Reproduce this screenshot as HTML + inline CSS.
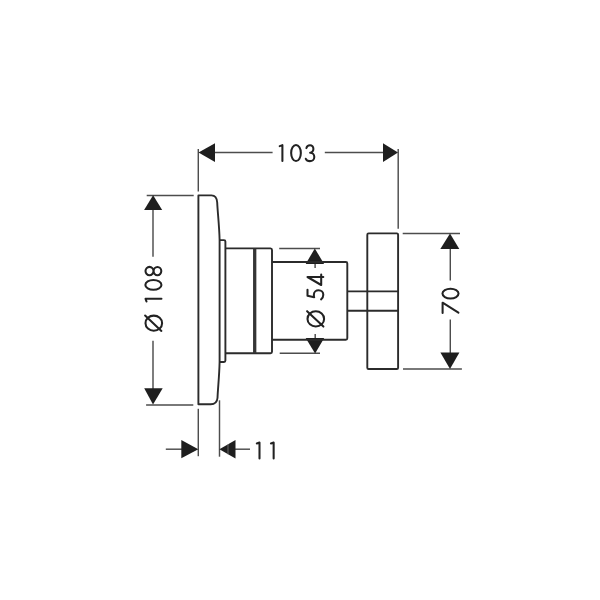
<!DOCTYPE html>
<html><head><meta charset="utf-8">
<style>
html,body{margin:0;padding:0;background:#fff;width:600px;height:600px;overflow:hidden}
svg{display:block}
text{font-family:"Liberation Sans",sans-serif;fill:#2a2a2a}
</style></head>
<body>
<svg width="600" height="600" viewBox="0 0 600 600">
<!-- dimension lines -->
<g stroke="#4d4d4d" stroke-width="1.45" fill="none">
  <!-- 103 -->
  <line x1="198.3" y1="149" x2="198.3" y2="191.5"/>
  <line x1="398.2" y1="149" x2="398.2" y2="228.8"/>
  <line x1="210" y1="152.5" x2="272.6" y2="152.5"/>
  <line x1="324.8" y1="152.5" x2="386" y2="152.5"/>
  <!-- 108 -->
  <line x1="146.7" y1="195.4" x2="193.7" y2="195.4"/>
  <line x1="146.1" y1="405" x2="193.3" y2="405"/>
  <line x1="153" y1="205" x2="153" y2="256.7"/>
  <line x1="153" y1="340.8" x2="153" y2="395"/>
  <!-- 54 -->
  <line x1="279.2" y1="248.4" x2="320" y2="248.4"/>
  <line x1="279.7" y1="353.3" x2="320" y2="353.3"/>
  <line x1="315.1" y1="263" x2="315.1" y2="268"/>
  <line x1="315.2" y1="334" x2="315.2" y2="339"/>
  <!-- 70 -->
  <line x1="402.7" y1="233.5" x2="460" y2="233.5"/>
  <line x1="403" y1="369" x2="461.9" y2="369"/>
  <line x1="450.3" y1="245" x2="450.3" y2="280.5"/>
  <line x1="450.3" y1="319.5" x2="450.3" y2="356"/>
  <!-- 11 -->
  <line x1="198.3" y1="408.8" x2="198.3" y2="456.2"/>
  <line x1="219.5" y1="400.3" x2="219.5" y2="456.7"/>
  <line x1="165.8" y1="449.2" x2="185" y2="449.2"/>
  <line x1="230" y1="449.2" x2="250" y2="449.2"/>
</g>
<!-- arrows -->
<g fill="#1e1e1e" stroke="none">
  <polygon points="198.5,152.5 215,143.3 215,162"/>
  <polygon points="398,152.5 383,143.3 383,162"/>
  <polygon points="153.1,195.2 144.1,210.1 162.2,210.1"/>
  <polygon points="153,404.5 144.2,388.3 162.7,388.3"/>
  <polygon points="314.8,248.4 305.7,264 324.1,264"/>
  <polygon points="315.1,353.6 305.7,338 324.2,338"/>
  <polygon points="450,233.6 440.3,249 459.3,249"/>
  <polygon points="450,368.9 440.4,352.4 459.4,352.4"/>
  <polygon points="198.3,449.3 181.3,440.1 181.3,458.3"/>
  <polygon points="219.4,449.3 235.5,440 235.5,458.4"/>
  <line x1="228" y1="444" x2="228" y2="454.5" stroke="#888" stroke-width="0.7"/>
</g>
<!-- object outline -->
<g stroke="#2b2b2b" stroke-width="1.9" fill="none" stroke-linejoin="round">
  <path d="M198.4,195.4 H211.5 C215.3,195.4 216.9,198 217.2,202.5 C217.6,212 219.3,226 219.6,240 L219.6,362 C219.3,376 217.9,388 217.5,398 C217.1,402.3 215.2,404.3 210.8,404.3 H198.4 Z"/>
  <path d="M219.6,240.1 H224 Q225.4,240.1 225.4,241.5 V360.6 Q225.4,362 224,362 H219.6"/>
  <path d="M225.4,248.4 H270.5 Q272,248.5 272,250 V351.8 Q272,353.3 270.5,353.3 H225.4"/>
  <path d="M272,262 H345.8 Q347.3,262 347.3,263.5 V338.2 Q347.3,339.7 345.8,339.7 H272"/>
  <rect x="367.3" y="233.4" width="30.8" height="135.6" rx="1.3"/>
  <line x1="347.3" y1="291.4" x2="398.2" y2="291.4"/>
  <line x1="347.3" y1="310.8" x2="398.2" y2="310.8"/>
</g>
<line x1="254.7" y1="248.5" x2="254.7" y2="353.3" stroke="#353535" stroke-width="3.3"/>
<!-- texts -->
<defs>
  <path id="g1" d="M0.9,1.9 L3.6,0.95 V16.85"/>
  <ellipse id="g0" cx="5.9" cy="8.8" rx="4.85" ry="8.05"/>
  <path id="g3" d="M1.4,3.9 C1.8,2.1 3.3,0.95 5.0,0.95 C6.9,0.95 8.4,2.6 8.4,4.7 C8.4,6.8 6.9,8.5 5.1,8.5 C7.6,8.5 9.3,10.4 9.3,12.7 C9.3,15.1 7.4,16.9 4.9,16.9 C3.0,16.9 1.4,16.0 0.8,14.6"/>
  <path id="g8" d="M5.05,0.9 A4.15,4 0 1 1 5.05,8.9 A4.15,4 0 1 1 5.05,0.9 Z M5.05,9 A4.15,3.85 0 1 1 5.05,16.7 A4.15,3.85 0 1 1 5.05,9 Z"/>
  <path id="g5" d="M10.8,0.9 H4.9 L3.3,7.6 C4.4,7.1 5.2,7.3 6.0,7.3 C8.5,7.3 10.3,9.4 10.3,12 C10.3,14.6 8.3,16.7 5.8,16.7 C4,16.7 2.3,15.9 1.3,14.5"/>
  <path id="g4" d="M8.9,16.7 V0.9 L0.9,14.6 H11.4"/>
  <path id="g7" d="M0.9,0.9 H11.1 L1.2,16.7"/>
  <g id="gd"><ellipse cx="8.5" cy="9.2" rx="7.6" ry="8.3"/><path d="M16.2,0.5 L0.8,16.8"/></g>
</defs>
<g stroke="#222" stroke-width="2.05" fill="none" stroke-linecap="round" stroke-linejoin="round">
  <g transform="translate(278.8,144.2)">
    <use href="#g1" x="0"/><use href="#g0" x="11.3"/><use href="#g3" x="26.2"/>
  </g>
  <g transform="translate(255.9,441.6)">
    <use href="#g1" x="0"/><use href="#g1" x="14.15"/>
  </g>
  <g transform="translate(441.7,313.8) rotate(-90)">
    <use href="#g7" x="0"/><use href="#g0" x="14.3"/>
  </g>
  <g transform="translate(144.6,331.7) rotate(-90)">
    <use href="#gd" x="0"/><use href="#g1" x="29.3"/><use href="#g0" x="40.9"/><use href="#g8" x="55.6"/>
  </g>
  <g transform="translate(306.6,327.4) rotate(-90)">
    <use href="#gd" x="0"/><use href="#g5" x="26.8"/><use href="#g4" x="41.5"/>
  </g>
</g>
</svg>
</body></html>
